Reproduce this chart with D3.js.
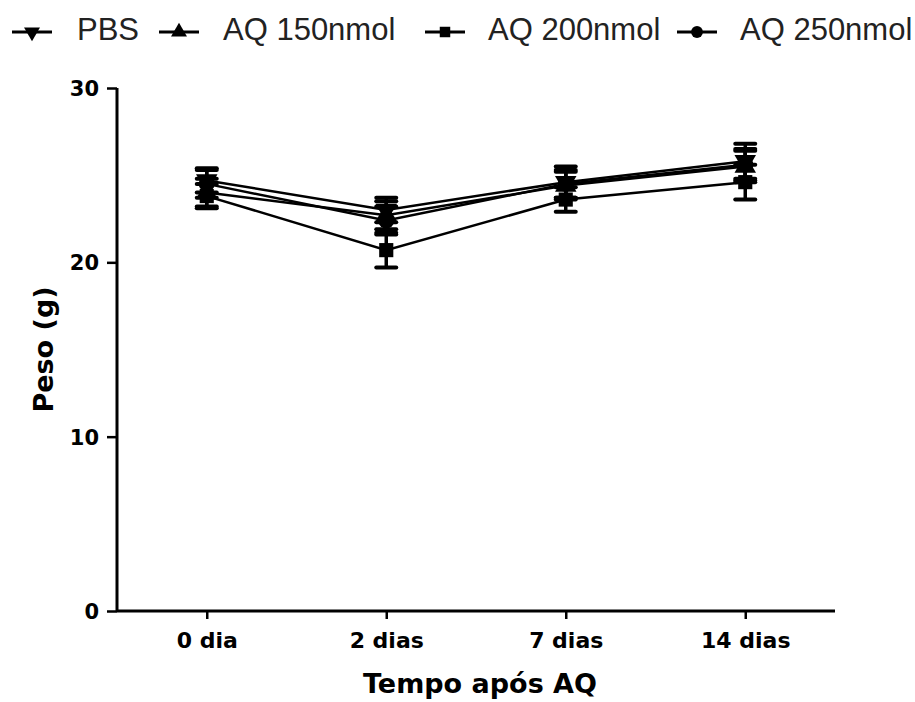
<!DOCTYPE html>
<html>
<head>
<meta charset="utf-8">
<script src="https://cdn.jsdelivr.net/npm/d3@7"></script>
<style>
  body { margin: 0; background: #fff; }
  svg { display: block; }
  .tick-label { font-family: "DejaVu Sans", sans-serif; font-weight: bold; fill: #000; }
  .axis-title { font-family: "DejaVu Sans", sans-serif; font-weight: bold; fill: #000; }
  .legend-text { font-family: "Liberation Sans", Arial, sans-serif; fill: #222; }
</style>
</head>
<body>
<div id="chart"></div>
<script>
// data
const categories = ["0 dia", "2 dias", "7 dias", "14 dias"];
const series_names = ["PBS", "AQ 150nmol", "AQ 200nmol", "AQ 250nmol"];
const pbs_values = [24.7, 23.0, 24.6, 25.8];
const pbs_sem = [0.7, 0.7, 0.9, 1.0];
const aq150_values = [24.0, 22.7, 24.4, 25.5];
const aq150_sem = [0.8, 0.8, 0.8, 0.9];
const aq200_values = [23.8, 20.7, 23.6, 24.6];
const aq200_sem = [0.7, 1.0, 0.7, 1.0];
const aq250_values = [24.5, 22.4, 24.5, 25.6];
const aq250_sem = [0.8, 0.8, 0.8, 0.9];
const y_ticks = [0, 10, 20, 30];

const settings = {
    width: 915,
    height: 702,
    left: 117,
    right: 835,
    top: 88,
    bottom: 611,
};

const symbols = [
    d3.symbolTriangle,  // drawn upside down for PBS
    d3.symbolTriangle,
    d3.symbolSquare,
    d3.symbolCircle,
];
const flipped = [true, false, false, false];

const series = [
    { name: series_names[0], values: pbs_values, sem: pbs_sem },
    { name: series_names[1], values: aq150_values, sem: aq150_sem },
    { name: series_names[2], values: aq200_values, sem: aq200_sem },
    { name: series_names[3], values: aq250_values, sem: aq250_sem },
];

const svg = d3
    .select("#chart")
    .append("svg")
    .attr("width", settings.width)
    .attr("height", settings.height);

const x = d3
    .scalePoint()
    .domain(categories)
    .range([settings.left, settings.right])
    .padding(0.5);

const y = d3
    .scaleLinear()
    .domain([0, 30])
    .range([settings.bottom, settings.top]);

// axes
const y_axis = svg
    .append("g")
    .attr("transform", `translate(${settings.left},0)`)
    .call(d3.axisLeft(y).tickValues(y_ticks).tickSize(10).tickPadding(8));
const x_axis = svg
    .append("g")
    .attr("transform", `translate(0,${settings.bottom})`)
    .call(d3.axisBottom(x).tickSize(8).tickPadding(13).tickSizeOuter(0));

[y_axis, x_axis].forEach((a) => {
    a.select(".domain").attr("stroke", "#000").attr("stroke-width", 3);
    a.selectAll(".tick line").attr("stroke", "#000").attr("stroke-width", 2.5);
    a.selectAll(".tick text").attr("class", "tick-label").attr("font-size", null);
});
y_axis.select(".domain").attr("d", `M0,${settings.top}V${settings.bottom}`);
x_axis.select(".domain").attr("d", `M${settings.left},0H${settings.right}`);
y_axis.selectAll(".tick text").style("font-size", "21px").attr("dy", "0.36em");
x_axis.selectAll(".tick text").style("font-size", "22px").attr("dy", "0.72em");

svg.append("text")
    .attr("class", "axis-title")
    .attr("transform", `translate(53,${(settings.top + settings.bottom) / 2}) rotate(-90)`)
    .attr("text-anchor", "middle")
    .style("font-size", "27px")
    .text("Peso (g)");

svg.append("text")
    .attr("class", "axis-title")
    .attr("x", (settings.left + settings.right) / 2 + 4)
    .attr("y", 693)
    .attr("text-anchor", "middle")
    .style("font-size", "27px")
    .text("Tempo após AQ");

// lines
const line = d3
    .line()
    .x((d, i) => x(categories[i]))
    .y((d) => y(d));

const marker_path = (i, size) => d3.symbol().type(symbols[i]).size(size)();

series.forEach((s, si) => {
    const g = svg.append("g");
    g.append("path")
        .attr("d", line(s.values))
        .attr("fill", "none")
        .attr("stroke", "#000")
        .attr("stroke-width", 2.5);

    s.values.forEach((v, i) => {
        const cx = x(categories[i]);
        const lo = y(v - s.sem[i]);
        const hi = y(v + s.sem[i]);
        g.append("line")
            .attr("x1", cx).attr("x2", cx)
            .attr("y1", lo).attr("y2", hi)
            .attr("stroke", "#000").attr("stroke-width", 3.5);
        [lo, hi].forEach((yy) => {
            g.append("line")
                .attr("x1", cx - 10).attr("x2", cx + 10)
                .attr("y1", yy).attr("y2", yy)
                .attr("stroke", "#000").attr("stroke-width", 4)
                .attr("stroke-linecap", "round");
        });
        g.append("path")
            .attr("d", marker_path(si, 200))
            .attr("transform", `translate(${cx},${y(v)})${flipped[si] ? " rotate(180)" : ""}`)
            .attr("fill", "#000");
    });
});

// legend
const legend_marker_x = [32, 179, 445, 697];
const legend_text_x = [77, 223, 488, 740];
const legend_y = 32;
series.forEach((s, si) => {
    const g = svg.append("g");
    g.append("line")
        .attr("x1", legend_marker_x[si] - 20).attr("x2", legend_marker_x[si] + 20)
        .attr("y1", legend_y).attr("y2", legend_y)
        .attr("stroke", "#000").attr("stroke-width", 3);
    g.append("path")
        .attr("d", marker_path(si, 110))
        .attr("transform", `translate(${legend_marker_x[si]},${legend_y})${flipped[si] ? " rotate(180)" : ""}`)
        .attr("fill", "#000");
    g.append("text")
        .attr("class", "legend-text")
        .attr("x", legend_text_x[si])
        .attr("y", 40)
        .style("font-size", "31px")
        .text(s.name);
});
</script>
</body>
</html>
